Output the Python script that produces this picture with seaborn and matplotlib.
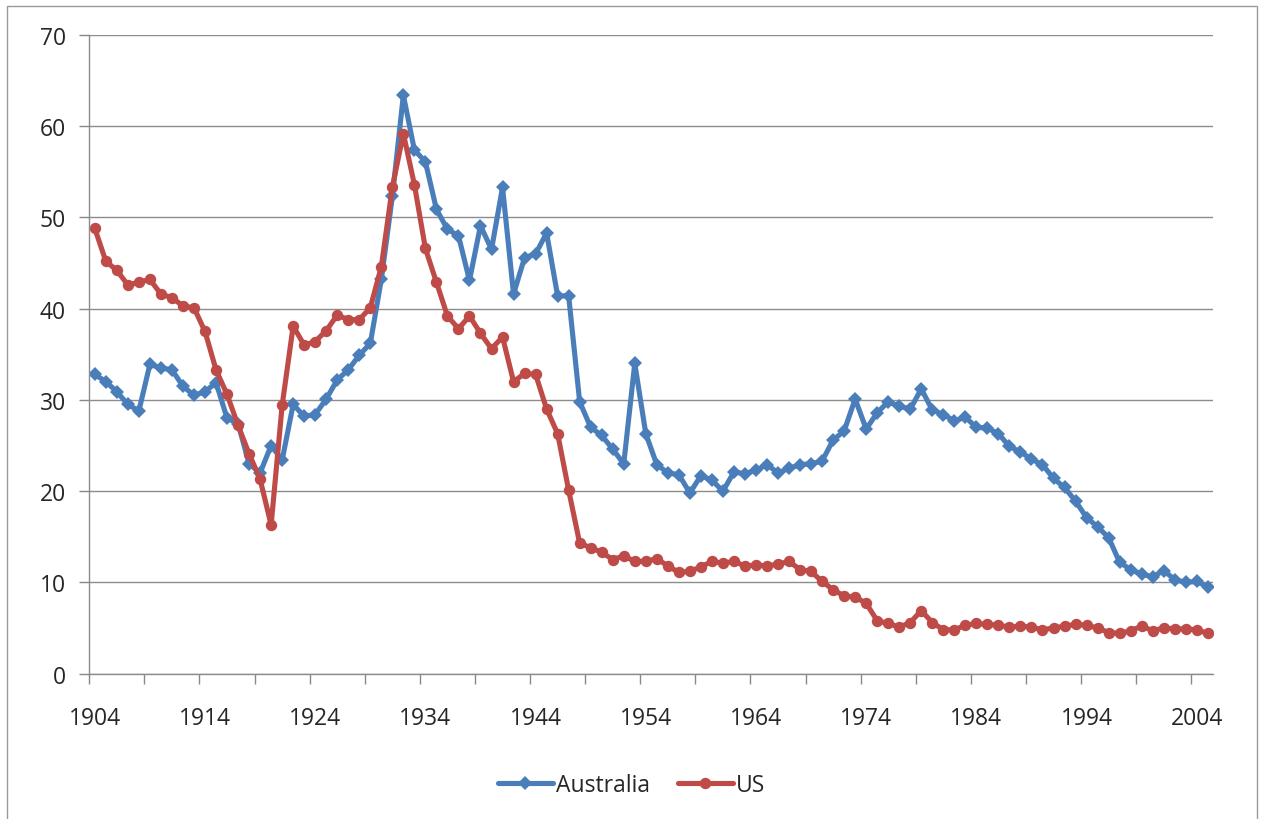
import numpy as np
import pandas as pd
import matplotlib
matplotlib.use("Agg")
import matplotlib.pyplot as plt
from matplotlib.patches import Rectangle
from matplotlib.lines import Line2D
from matplotlib.ticker import FixedLocator
import seaborn as sns

years = list(range(1904, 2006))

australia = [
    32.8, 32.0, 30.9, 29.5, 28.8, 33.9, 33.5, 33.3, 31.5, 30.5,   # 1904-1913
    30.9, 31.9, 28.0, 27.4, 23.0, 22.0, 25.0, 23.4, 29.5, 28.2,   # 1914-1923
    28.4, 30.1, 32.2, 33.3, 34.9, 36.2, 43.2, 52.3, 63.4, 57.4,   # 1924-1933
    56.1, 50.9, 48.7, 48.0, 43.1, 49.1, 46.5, 53.3, 41.6, 45.6,   # 1934-1943
    46.0, 48.3, 41.4, 41.4, 29.8, 27.0, 26.1, 24.6, 23.0, 34.0,   # 1944-1953
    26.3, 22.9, 22.0, 21.8, 19.8, 21.7, 21.2, 20.0, 22.1, 21.9,   # 1954-1963
    22.3, 22.9, 22.0, 22.5, 22.9, 23.0, 23.3, 25.6, 26.6, 30.1,   # 1964-1973
    26.8, 28.6, 29.8, 29.3, 29.0, 31.2, 28.9, 28.4, 27.7, 28.1,   # 1974-1983
    27.0, 26.9, 26.3, 24.9, 24.3, 23.5, 22.9, 21.4, 20.4, 18.9,   # 1984-1993
    17.1, 16.1, 14.9, 12.2, 11.4, 10.9, 10.6, 11.3, 10.3, 10.0,   # 1994-2003
    10.1, 9.5,                                                    # 2004-2005
]

us = [
    48.8, 45.2, 44.2, 42.6, 42.9, 43.2, 41.6, 41.2, 40.3, 40.1,   # 1904-1913
    37.5, 33.3, 30.6, 27.2, 24.1, 21.3, 16.3, 29.4, 38.1, 36.0,   # 1914-1923
    36.4, 37.6, 39.3, 38.8, 38.8, 40.1, 44.6, 53.3, 59.2, 53.6,   # 1924-1933
    46.6, 42.9, 39.2, 37.8, 39.2, 37.3, 35.6, 36.9, 32.0, 32.9,   # 1934-1943
    32.8, 29.0, 26.3, 20.1, 14.3, 13.8, 13.3, 12.5, 12.9, 12.3,   # 1944-1953
    12.3, 12.6, 11.8, 11.1, 11.2, 11.7, 12.3, 12.1, 12.3, 11.8,   # 1954-1963
    11.9, 11.8, 12.0, 12.3, 11.4, 11.2, 10.1, 9.2, 8.5, 8.4,      # 1964-1973
    7.7, 5.8, 5.5, 5.1, 5.6, 6.9, 5.6, 4.8, 4.8, 5.3,             # 1974-1983
    5.5, 5.4, 5.3, 5.1, 5.2, 5.1, 4.8, 5.0, 5.2, 5.4,             # 1984-1993
    5.3, 5.0, 4.5, 4.4, 4.7, 5.2, 4.7, 5.0, 4.9, 4.9,             # 1994-2003
    4.8, 4.4,                                                     # 2004-2005
]

series_names = ["Australia", "US"]
x_labels = list(range(1904, 2005, 10))
y_ticks = list(range(0, 71, 10))

df = pd.DataFrame({
    "Year": years * 2,
    "Value": australia + us,
    "Series": ["Australia"] * len(years) + ["US"] * len(years),
})

sns.set_theme(style="white")
plt.rcParams["font.family"] = ["Open Sans", "DejaVu Sans"]

FS = 16.5
TXT = "#262626"

fig = plt.figure(figsize=(12.63, 8.20), dpi=100)
fig.patch.set_facecolor("white")
ax = fig.add_axes([89.3 / 1263, 1 - 674.6 / 820, (1213.3 - 89.3) / 1263, (674.6 - 36) / 820])

palette = {"Australia": "#4A7EBB", "US": "#BE4B48"}
markers = {"Australia": "D", "US": "o"}
sizes_ms = {"Australia": 6.8, "US": 8.2}
LW = 3.7

sns.lineplot(data=df, x="Year", y="Value", hue="Series", style="Series",
             palette=palette, markers=markers, dashes=False, ax=ax,
             linewidth=LW, markeredgewidth=0, legend=False,
             solid_joinstyle="round", solid_capstyle="round")
for line, name in zip(ax.get_lines(), series_names):
    line.set_markersize(sizes_ms[name])

ax.set_xlim(1903.5, 2005.5)
ax.set_ylim(0, 70)
ax.set_yticks(y_ticks)
ax.set_xticks(x_labels)
ax.xaxis.set_minor_locator(FixedLocator([1903.5 + 5 * k for k in range(21)]))
ax.tick_params(axis="x", which="major", length=0, pad=23, labelsize=FS, colors=TXT)
ax.tick_params(axis="x", which="minor", length=7, width=1, color="#888888", direction="out", bottom=True)
ax.tick_params(axis="y", which="major", length=7, width=1, color="#888888", direction="out",
               left=True, pad=10, labelsize=FS, colors=TXT)
ax.set_xlabel("")
ax.set_ylabel("")

ax.grid(axis="y", color="#8c8c8c", linewidth=1.0)
ax.grid(axis="x", visible=False)
ax.set_axisbelow(True)
for s in ["top", "right"]:
    ax.spines[s].set_visible(False)
for s in ["left", "bottom"]:
    ax.spines[s].set_color("#8c8c8c")
    ax.spines[s].set_linewidth(1.0)

# legend
handles = [Line2D([], [], color=palette[n], marker=markers[n], markersize=sizes_ms[n],
                  markeredgewidth=0, linewidth=LW) for n in series_names]
fig.legend(handles, series_names, loc="center", bbox_to_anchor=(0.5, 1 - 786 / 820),
           ncol=2, frameon=False, fontsize=FS, handlelength=2.4, handletextpad=0.15,
           columnspacing=1.2, labelcolor=TXT)

# chart area border
fig.patches.append(Rectangle((7 / 1263, -0.01), (1257 - 7) / 1263, 1 - 7 / 820 + 0.01,
                             transform=fig.transFigure, fill=False,
                             edgecolor="#9a9a9a", linewidth=1.0))

fig.savefig("out.png", dpi=100, facecolor="white")
